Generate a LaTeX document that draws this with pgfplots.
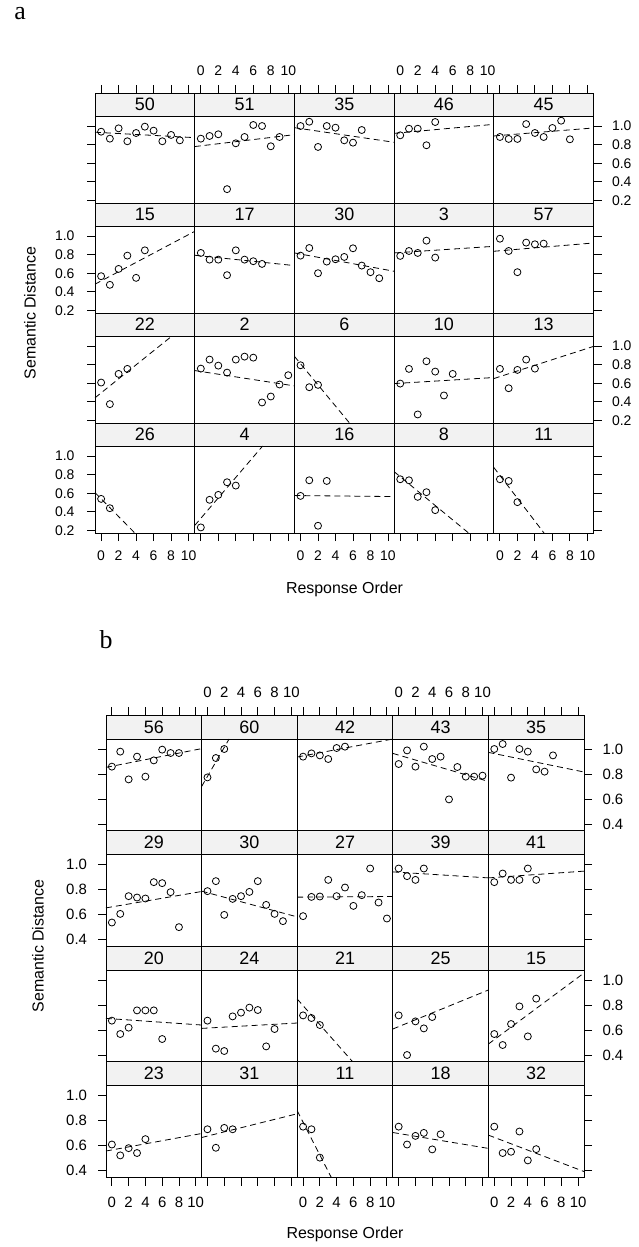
\documentclass[border=0pt]{standalone}
\usepackage{fontspec}
\setmainfont{Liberation Sans}
\newfontfamily\seriffont{Liberation Serif}
\usepackage{pgfplots}
\pgfplotsset{compat=1.18}
\definecolor{stripgray}{RGB}{242,242,242}

\pgfplotsset{
  panel/.style={scale only axis, anchor=north west, xmin=-0.7, xmax=10.7,
    axis on top, clip=false, tick align=outside, major tick length=8bp,
    xtick=\empty, ytick=\empty,
    axis line style={line width=0.9bp},
    every tick/.style={black, line width=0.9bp}},
  pa/.style={panel, width=99.7bp, height=110bp, ymin=0.172, ymax=1.355,
    tick label style={font=\fontsize{14}{15}\selectfont}},
  pb/.style={panel, width=95.6bp, height=116bp, ymin=0.344, ymax=1.272,
    tick label style={font=\fontsize{15}{16}\selectfont}},
  xT/.style={xtick={0,2,4,6,8,10}, xtick pos=right, xticklabels={0,2,4,6,8,10},
    xticklabel style={yshift=6bp}},
  xTn/.style={xtick={0,2,4,6,8,10}, xtick pos=right, xticklabels={,,,,,}},
  xB/.style={xtick={0,2,4,6,8,10}, xtick pos=left, xticklabels={0,2,4,6,8,10},
    xticklabel style={yshift=-\xbs}},
  xBn/.style={xtick={0,2,4,6,8,10}, xtick pos=left, xticklabels={,,,,,}},
  yLa/.style={ytick={0.2,0.4,0.6,0.8,1.0}, ytick pos=left, yticklabels={0.2,0.4,0.6,0.8,1.0},
    yticklabel style={xshift=-9bp}},
  yLan/.style={ytick={0.2,0.4,0.6,0.8,1.0}, ytick pos=left, yticklabels={,,,,}},
  yRa/.style={ytick={0.2,0.4,0.6,0.8,1.0}, ytick pos=right, yticklabels={0.2,0.4,0.6,0.8,1.0},
    yticklabel style={xshift=7bp}},
  yRan/.style={ytick={0.2,0.4,0.6,0.8,1.0}, ytick pos=right, yticklabels={,,,,}},
  yLb/.style={ytick={0.4,0.6,0.8,1.0}, ytick pos=left, yticklabels={0.4,0.6,0.8,1.0},
    yticklabel style={xshift=-7.5bp}},
  yLbn/.style={ytick={0.4,0.6,0.8,1.0}, ytick pos=left, yticklabels={,,,}},
  yRb/.style={ytick={0.4,0.6,0.8,1.0}, ytick pos=right, yticklabels={0.4,0.6,0.8,1.0},
    yticklabel style={xshift=7bp}},
  yRbn/.style={ytick={0.4,0.6,0.8,1.0}, ytick pos=right, yticklabels={,,,}},
}

% #1 style, #2 left, #3 top of strip, #4 strip label, #5 tick options, #6 points, #7 dashed line
\newcommand\pnl[7]{%
\begin{axis}[#1, at={(#2bp,-#3bp)}, #5]
\fill[stripgray] (axis cs:-0.7,\sy) rectangle (axis cs:10.7,\st);
\draw[line width=0.9bp] (axis cs:-0.7,\sy) -- (axis cs:10.7,\sy);
\node[font=\fontsize{18}{19}\selectfont] at (axis cs:5,\sm) {#4};
\addplot[only marks, mark=o, mark size=3.5bp, mark options={line width=0.8bp, black}] coordinates {#6};
\addplot[black, line width=0.8bp, dash pattern=on 6bp off 4bp] coordinates {#7};
\end{axis}}

\begin{document}
\begin{tikzpicture}
\path[use as bounding box] (0,0) rectangle (639bp,-1247bp);

% ---------------- a ----------------
\def\sy{1.1075}\def\st{1.355}\def\sm{1.231}\def\xbs{6bp}
\node[font=\seriffont\fontsize{26}{28}\selectfont] at (20bp,-13.5bp) {a};
\node[font=\fontsize{16}{18}\selectfont, rotate=90] at (30bp,-313bp) {Semantic Distance};
\node[font=\fontsize{16}{18}\selectfont] at (344.5bp,-589bp) {Response Order};

\pnl{pa}{95}{93}{50}{xTn, yLan}{(0,0.939)(1,0.864)(2,0.975)(3,0.836)(4,0.925)(5,0.993)(6,0.950)(7,0.836)(8,0.904)(9,0.846)}{(-0.7,0.933)(10.7,0.875)}
\pnl{pa}{194.7}{93}{51}{xT}{(0,0.864)(1,0.893)(2,0.911)(3,0.321)(4,0.814)(5,0.882)(6,1.011)(7,1.0)(8,0.782)(9,0.882)}{(-0.7,0.779)(10.7,0.907)}
\pnl{pa}{294.4}{93}{35}{xTn}{(0,1.0)(1,1.046)(2,0.775)(3,1.0)(4,0.982)(5,0.846)(6,0.821)(7,0.957)}{(-0.7,0.982)(10.7,0.825)}
\pnl{pa}{394.1}{93}{46}{xT}{(0,0.9)(1,0.971)(2,0.971)(3,0.793)(4,1.043)}{(-0.7,0.921)(10.7,1.018)}
\pnl{pa}{493.8}{93}{45}{xTn, yRa}{(0,0.882)(1,0.861)(2,0.861)(3,1.021)(4,0.925)(5,0.882)(6,0.979)(7,1.057)(8,0.857)}{(-0.7,0.893)(10.7,0.979)}

\pnl{pa}{95}{203}{15}{yLa}{(0,0.568)(1,0.475)(2,0.646)(3,0.789)(4,0.55)(5,0.846)}{(-0.7,0.482)(10.7,1.05)}
\pnl{pa}{194.7}{203}{17}{}{(0,0.818)(1,0.746)(2,0.746)(3,0.579)(4,0.846)(5,0.746)(6,0.729)(7,0.7)}{(-0.7,0.793)(10.7,0.682)}
\pnl{pa}{294.4}{203}{30}{}{(0,0.789)(1,0.871)(2,0.6)(3,0.725)(4,0.75)(5,0.775)(6,0.868)(7,0.682)(8,0.611)(9,0.546)}{(-0.7,0.818)(10.7,0.621)}
\pnl{pa}{394.1}{203}{3}{}{(0,0.786)(1,0.839)(2,0.818)(3,0.95)(4,0.768)}{(-0.7,0.818)(10.7,0.889)}
\pnl{pa}{493.8}{203}{57}{yRan}{(0,0.971)(1,0.839)(2,0.611)(3,0.929)(4,0.911)(5,0.918)}{(-0.7,0.836)(10.7,0.925)}

\pnl{pa}{95}{313}{22}{yLan}{(0,0.607)(1,0.375)(2,0.7)(3,0.754)}{(-0.7,0.443)(8.1,1.1075)}
\pnl{pa}{194.7}{313}{2}{}{(0,0.757)(1,0.854)(2,0.789)(3,0.714)(4,0.854)(5,0.886)(6,0.875)(7,0.393)(8,0.457)(9,0.586)(10,0.686)}{(-0.7,0.736)(10.7,0.571)}
\pnl{pa}{294.4}{313}{6}{}{(0,0.793)(1,0.557)(2,0.582)}{(-0.7,0.889)(5.6,0.172)}
\pnl{pa}{394.1}{313}{10}{}{(0,0.596)(1,0.754)(2,0.264)(3,0.836)(4,0.725)(5,0.468)(6,0.7)}{(-0.7,0.596)(10.7,0.661)}
\pnl{pa}{493.8}{313}{13}{yRa}{(0,0.754)(1,0.546)(2,0.743)(3,0.854)(4,0.757)}{(-0.7,0.65)(10.7,0.996)}

\pnl{pa}{95}{423}{26}{xB, yLa}{(0,0.539)(1,0.439)}{(-0.7,0.607)(3.85,0.172)}
\pnl{pa}{194.7}{423}{4}{xBn}{(0,0.232)(1,0.529)(2,0.582)(3,0.718)(4,0.682)}{(-0.7,0.253)(7.07,1.1075)}
\pnl{pa}{294.4}{423}{16}{xB}{(0,0.571)(1,0.739)(2,0.25)(3,0.732)}{(-0.7,0.575)(10.7,0.564)}
\pnl{pa}{394.1}{423}{8}{xBn}{(0,0.75)(1,0.739)(2,0.561)(3,0.611)(4,0.418)}{(-0.7,0.832)(7.82,0.172)}
\pnl{pa}{493.8}{423}{11}{xB, yRan}{(0,0.75)(1,0.732)(2,0.504)}{(-0.7,0.877)(5.04,0.172)}

% ---------------- b ----------------
\def\sy{1.08}\def\st{1.272}\def\sm{1.176}\def\xbs{8bp}
\node[font=\seriffont\fontsize{26}{28}\selectfont] at (106bp,-640bp) {b};
\node[font=\fontsize{16}{18}\selectfont, rotate=90] at (38bp,-946bp) {Semantic Distance};
\node[font=\fontsize{16}{18}\selectfont] at (345bp,-1234bp) {Response Order};

\pnl{pb}{106}{715}{56}{xTn, yLbn}{(0,0.859)(1,0.979)(2,0.757)(3,0.939)(4,0.779)(5,0.909)(6,0.995)(7,0.968)(8,0.968)}{(-0.7,0.853)(10.7,1.003)}
\pnl{pb}{201.6}{715}{60}{xT}{(0,0.773)(1,0.928)(2,1.0)}{(-0.7,0.70)(2.58,1.08)}
\pnl{pb}{297.2}{715}{42}{xTn}{(0,0.939)(1,0.965)(2,0.949)(3,0.92)(4,1.008)(5,1.019)}{(-0.7,0.936)(10.7,1.08)}
\pnl{pb}{392.8}{715}{43}{xT}{(0,0.88)(1,0.989)(2,0.859)(3,1.019)(4,0.92)(5,0.939)(6,0.597)(7,0.856)(8,0.779)(9,0.779)(10,0.787)}{(-0.7,0.965)(10.7,0.741)}
\pnl{pb}{488.4}{715}{35}{xTn, yRb}{(0,1.0)(1,1.04)(2,0.771)(3,1.0)(4,0.979)(5,0.837)(6,0.819)(7,0.949)}{(-0.7,0.973)(10.7,0.816)}

\pnl{pb}{106}{830.5}{29}{yLb}{(0,0.536)(1,0.605)(2,0.747)(3,0.736)(4,0.728)(5,0.859)(6,0.851)(7,0.779)(8,0.499)}{(-0.7,0.653)(10.7,0.784)}
\pnl{pb}{201.6}{830.5}{30}{}{(0,0.787)(1,0.867)(2,0.597)(3,0.725)(4,0.747)(5,0.781)(6,0.867)(7,0.677)(8,0.605)(9,0.547)}{(-0.7,0.787)(10.7,0.581)}
\pnl{pb}{297.2}{830.5}{27}{}{(0,0.587)(1,0.741)(2,0.744)(3,0.877)(4,0.747)(5,0.816)(6,0.669)(7,0.755)(8,0.968)(9,0.696)(10,0.568)}{(-0.7,0.739)(10.7,0.744)}
\pnl{pb}{392.8}{830.5}{39}{}{(0,0.968)(1,0.907)(2,0.877)(3,0.968)}{(-0.7,0.941)(10.7,0.893)}
\pnl{pb}{488.4}{830.5}{41}{yRbn}{(0,0.859)(1,0.928)(2,0.877)(3,0.877)(4,0.968)(5,0.877)}{(-0.7,0.893)(10.7,0.947)}

\pnl{pb}{106}{946}{20}{yLbn}{(0,0.675)(1,0.568)(2,0.619)(3,0.757)(4,0.757)(5,0.757)(6,0.528)}{(-0.7,0.693)(10.7,0.64)}
\pnl{pb}{201.6}{946}{24}{}{(0,0.675)(1,0.451)(2,0.432)(3,0.709)(4,0.739)(5,0.779)(6,0.76)(7,0.469)(8,0.608)}{(-0.7,0.613)(10.7,0.656)}
\pnl{pb}{297.2}{946}{21}{}{(0,0.717)(1,0.696)(2,0.64)}{(-0.7,0.848)(5.94,0.344)}
\pnl{pb}{392.8}{946}{25}{}{(0,0.717)(1,0.4)(2,0.669)(3,0.613)(4,0.704)}{(-0.7,0.608)(10.7,0.92)}
\pnl{pb}{488.4}{946}{15}{yRb}{(0,0.568)(1,0.48)(2,0.648)(3,0.789)(4,0.549)(5,0.851)}{(-0.7,0.488)(10.7,1.056)}

\pnl{pb}{106}{1061.5}{23}{xB, yLb}{(0,0.608)(1,0.521)(2,0.579)(3,0.54)(4,0.651)}{(-0.7,0.556)(10.7,0.696)}
\pnl{pb}{201.6}{1061.5}{31}{xBn}{(0,0.73)(1,0.582)(2,0.741)(3,0.73)}{(-0.7,0.664)(10.7,0.854)}
\pnl{pb}{297.2}{1061.5}{11}{xB}{(0,0.751)(1,0.73)(2,0.503)}{(-0.7,0.878)(3.37,0.344)}
\pnl{pb}{392.8}{1061.5}{18}{xBn}{(0,0.751)(1,0.608)(2,0.677)(3,0.701)(4,0.569)(5,0.69)}{(-0.7,0.704)(10.7,0.577)}
\pnl{pb}{488.4}{1061.5}{32}{xB, yRbn}{(0,0.751)(1,0.54)(2,0.55)(3,0.712)(4,0.481)(5,0.571)}{(-0.7,0.683)(10.7,0.392)}
\end{tikzpicture}
\end{document}
